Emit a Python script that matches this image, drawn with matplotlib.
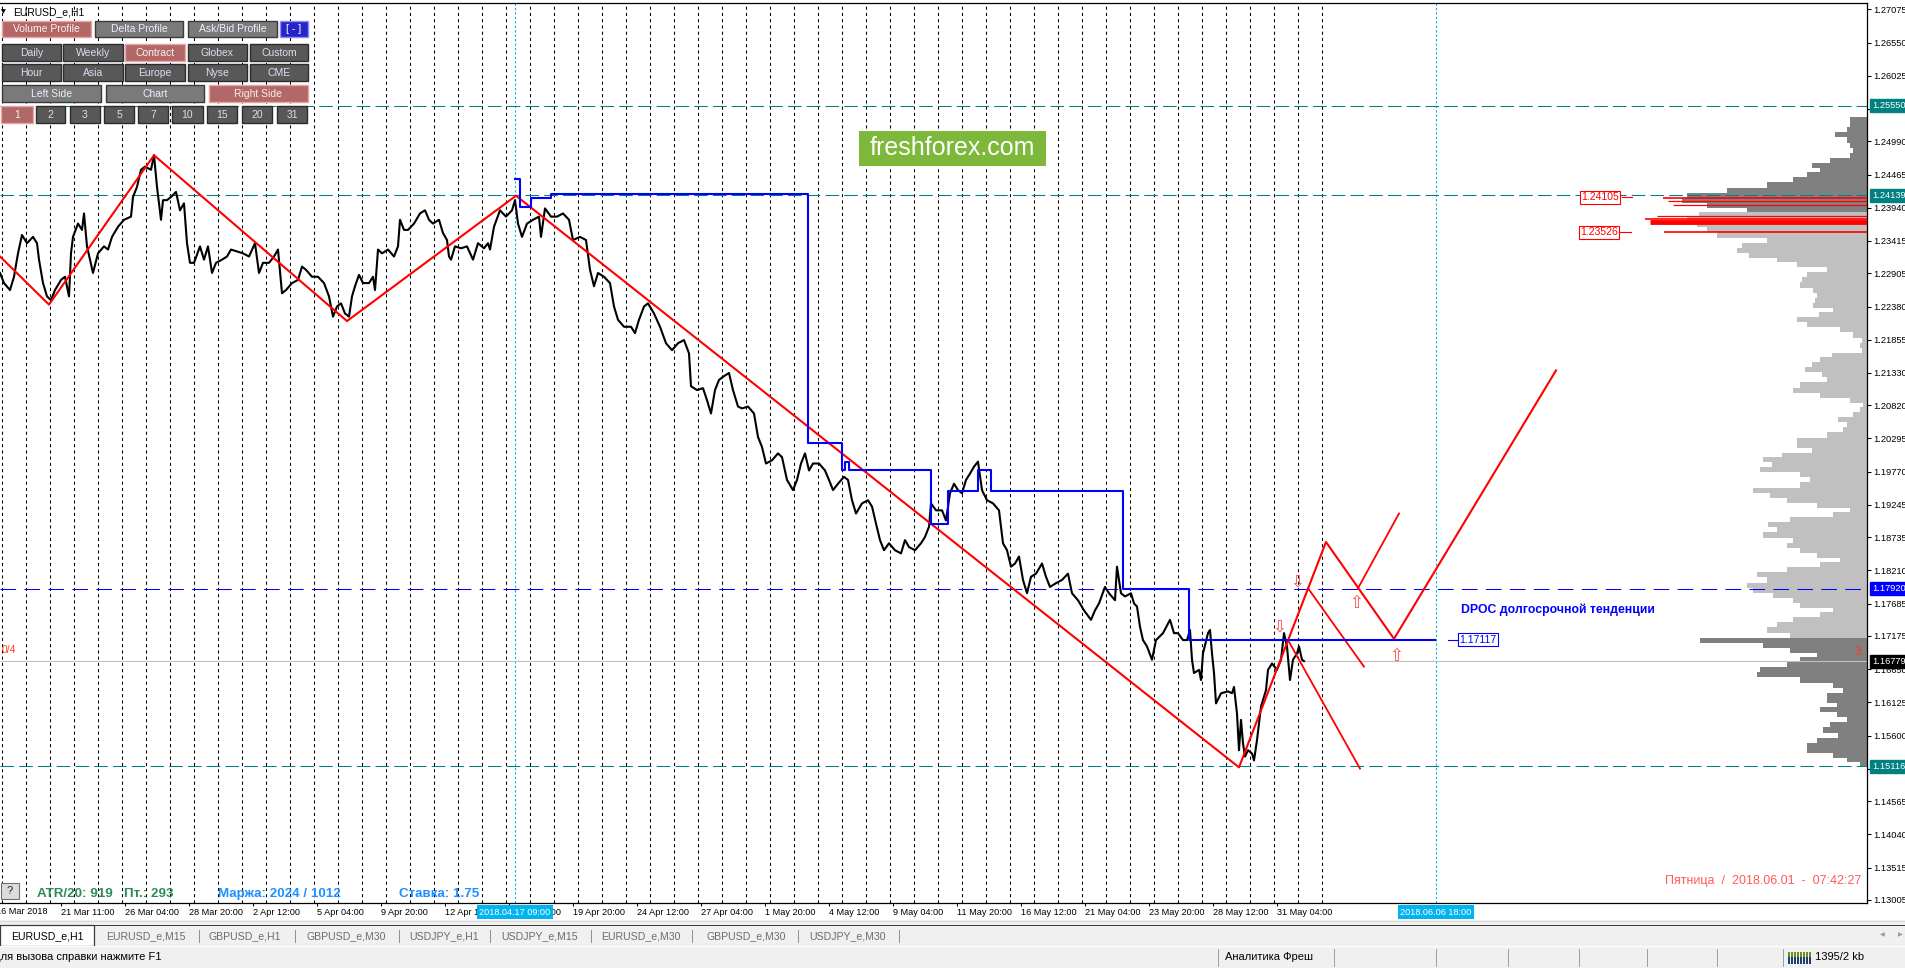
import matplotlib
matplotlib.use("Agg")
import matplotlib.pyplot as plt
from matplotlib.patches import Rectangle
import numpy as np

plt.rcParams['font.family'] = ['Liberation Sans', 'DejaVu Sans']

W, H = 1906, 968

# ---- data (x = H1 bar index from the left edge) ----
path_mar_apr = [(0, 1.2291), (4, 1.2275), (10, 1.2264), (14, 1.2285), (18, 1.2322), (22, 1.2351),
    (27, 1.2338), (33, 1.2348), (37, 1.2338), (39, 1.2312), (43, 1.2275), (47, 1.2254), (51, 1.2248),
    (55, 1.2264), (61, 1.2280), (65, 1.2285), (69, 1.2254), (71, 1.2322), (73, 1.2348), (78, 1.2369),
    (82, 1.2359), (84, 1.2385), (87, 1.2333), (90, 1.2312), (93, 1.2291), (98, 1.2322), (104, 1.2333),
    (108, 1.2328), (112, 1.2348), (118, 1.2364), (124, 1.2375), (131, 1.2380), (133, 1.2411),
    (137, 1.2427), (141, 1.2454), (145, 1.2459), (151, 1.2454), (154, 1.2477), (157, 1.2427),
    (161, 1.2375), (163, 1.2406), (167, 1.2406), (171, 1.2411), (176, 1.2419), (180, 1.2390),
    (184, 1.2401), (187, 1.2338), (190, 1.2307), (194, 1.2307), (200, 1.2333), (204, 1.2312),
    (208, 1.2333), (212, 1.2291), (216, 1.2307), (222, 1.2312), (227, 1.2317), (231, 1.2328),
    (237, 1.2325), (243, 1.2322), (249, 1.2317), (255, 1.2338), (259, 1.2291), (263, 1.2307),
    (269, 1.2307), (274, 1.2317), (278, 1.2328), (282, 1.2259), (286, 1.2264), (292, 1.2275),
    (298, 1.2280), (302, 1.2301), (306, 1.2296), (312, 1.2285), (318, 1.2285), (324, 1.2275),
    (329, 1.2254), (333, 1.2222), (337, 1.2238), (341, 1.2243), (345, 1.2227), (349, 1.2222),
    (352, 1.2254), (355, 1.2270), (359, 1.2288), (363, 1.2275), (369, 1.2275), (373, 1.2285),
    (375, 1.2264), (378, 1.2328), (382, 1.2322), (388, 1.2328), (394, 1.2317), (398, 1.2333),
    (400, 1.2375), (404, 1.2359), (408, 1.2359), (414, 1.2369), (420, 1.2385), (425, 1.2390),
    (429, 1.2375), (433, 1.2369), (439, 1.2375), (443, 1.2354), (447, 1.2343), (449, 1.2317),
    (451, 1.2312), (455, 1.2333), (461, 1.2330), (467, 1.2333), (473, 1.2312), (478, 1.2338),
    (484, 1.2330), (488, 1.2338), (490, 1.2328), (494, 1.2364), (500, 1.2390), (506, 1.2380),
    (512, 1.2390), (515, 1.2406), (518, 1.2369), (522, 1.2348), (527, 1.2369), (533, 1.2375),
    (539, 1.2380), (541, 1.2348), (545, 1.2393), (551, 1.2380), (557, 1.2380), (563, 1.2385),
    (569, 1.2375), (573, 1.2343), (580, 1.2348), (586, 1.2343), (590, 1.2296), (594, 1.2270),
    (598, 1.2291), (604, 1.2285), (610, 1.2275), (614, 1.2238), (618, 1.2217), (624, 1.2206),
    (631, 1.2206), (635, 1.2196), (639, 1.2217)]

path_apr_may = [(644, 1.2238), (648, 1.2243), (654, 1.2227), (660, 1.2206), (666, 1.2180),
    (672, 1.2169), (678, 1.2180), (684, 1.2185), (689, 1.2164), (691, 1.2112), (697, 1.2106),
    (703, 1.2109), (707, 1.2090), (711, 1.2069), (715, 1.2106), (719, 1.2122), (723, 1.2127),
    (729, 1.2133), (733, 1.2106), (738, 1.2080), (742, 1.2077), (748, 1.2080), (754, 1.2069),
    (758, 1.2032), (762, 1.2016), (766, 1.1990), (772, 1.1995), (778, 1.2006), (782, 1.2000),
    (787, 1.1964), (793, 1.1948), (797, 1.1964), (801, 1.1990), (805, 1.2006), (809, 1.1979),
    (813, 1.1990), (819, 1.1990), (825, 1.1979), (829, 1.1964), (833, 1.1948), (838, 1.1958),
    (844, 1.1969), (848, 1.1964), (852, 1.1932), (856, 1.1911), (862, 1.1927), (868, 1.1932),
    (872, 1.1922), (876, 1.1895), (880, 1.1869), (884, 1.1853), (889, 1.1864), (895, 1.1853),
    (901, 1.1848), (905, 1.1869), (909, 1.1858), (915, 1.1853), (921, 1.1864), (925, 1.1874),
    (929, 1.1890), (931, 1.1927), (936, 1.1916), (942, 1.1916), (946, 1.1900), (950, 1.1943),
    (954, 1.1958), (958, 1.1948), (962, 1.1943), (966, 1.1964), (970, 1.1974), (974, 1.1985),
    (978, 1.1993), (982, 1.1948), (987, 1.1932), (993, 1.1927), (999, 1.1916), (1003, 1.1864),
    (1007, 1.1853), (1011, 1.1827), (1015, 1.1832), (1019, 1.1843), (1023, 1.1806), (1027, 1.1785),
    (1031, 1.1811), (1036, 1.1816), (1042, 1.1832), (1046, 1.1811), (1050, 1.1795), (1056, 1.1801),
    (1062, 1.1806), (1068, 1.1816), (1072, 1.1785), (1078, 1.1774), (1084, 1.1758), (1091, 1.1743),
    (1095, 1.1758), (1099, 1.1769), (1105, 1.1795), (1109, 1.1785), (1115, 1.1774), (1117, 1.1827),
    (1121, 1.1785), (1125, 1.1780), (1131, 1.1785)]

path_may_jun = [(1134, 1.1769), (1137, 1.1764), (1140, 1.1732), (1143, 1.1711), (1147, 1.1701),
    (1152, 1.1680), (1156, 1.1711), (1163, 1.1722), (1170, 1.1743), (1174, 1.1722), (1178, 1.1722),
    (1183, 1.1711), (1187, 1.1711), (1190, 1.1727), (1192, 1.1680), (1194, 1.1659), (1199, 1.1664),
    (1201, 1.1648), (1203, 1.1690), (1208, 1.1722), (1210, 1.1727), (1212, 1.1690), (1214, 1.1659),
    (1216, 1.1611), (1221, 1.1627), (1228, 1.1630), (1232, 1.1627), (1234, 1.1637), (1237, 1.1595),
    (1239, 1.1537), (1241, 1.1585), (1243, 1.1548), (1245, 1.1527), (1248, 1.1537), (1252, 1.1532),
    (1254, 1.1521), (1257, 1.1553), (1261, 1.1606), (1266, 1.1632), (1268, 1.1664), (1272, 1.1674),
    (1277, 1.1664), (1281, 1.1680), (1284, 1.1722), (1287, 1.1701), (1290, 1.1648), (1293, 1.1680),
    (1297, 1.1690), (1299, 1.1701), (1302, 1.1680), (1304, 1.16779)]

zigzag_bars = [0, 49, 154, 347, 516, 1239, 1326, 1394, 1556]
zigzag_prices = [1.2317, 1.2241, 1.2477, 1.2215, 1.2413, 1.1510, 1.1866, 1.1713, 1.2137]
branch_lines = [([1358, 1399], [1.1793, 1.1911]),
                ([1308, 1364], [1.1793, 1.1669]),
                ([1288, 1360], [1.1711, 1.1508])]
arrow_down = [(1297, 1.1803), (1279, 1.1732)]
arrow_up = [(1356, 1.1770), (1396, 1.1686)]

dpoc_bars = [515, 520, 531, 551, 808, 842, 845, 849, 931, 948, 978, 991, 1123, 1189, 1435]
dpoc_levels = [1.2440, 1.2395, 1.2410, 1.2416, 1.2023, 1.1979, 1.1993, 1.1979, 1.1895,
               1.1946, 1.1979, 1.1946, 1.1792, 1.17117, 1.17117]

teal_levels = [1.25550, 1.24139, 1.15116]
dpoc_long = 1.17920
bid = 1.16779
cursor_bars = [515, 1436]
cursor_labels = ["2018.04.17 09:00", "2018.06.06 18:00"]

profile_prices = [
    1.2533, 1.2525, 1.2517, 1.2509, 1.2501, 1.2493, 1.2485, 1.2477, 1.2469, 1.2461,
    1.2454, 1.2446, 1.2438, 1.2430, 1.2422, 1.2414, 1.2406, 1.2398, 1.2390, 1.2383,
    1.2375, 1.2367, 1.2359, 1.2351, 1.2343, 1.2335, 1.2327, 1.2319, 1.2312, 1.2304,
    1.2296, 1.2288, 1.2280, 1.2272, 1.2264, 1.2256, 1.2248, 1.2240, 1.2233, 1.2225,
    1.2217, 1.2209, 1.2201, 1.2193, 1.2185, 1.2177, 1.2169, 1.2161, 1.2154, 1.2146,
    1.2138, 1.2130, 1.2122, 1.2114, 1.2106, 1.2098, 1.2090, 1.2082, 1.2075, 1.2067,
    1.2059, 1.2051, 1.2043, 1.2035, 1.2027, 1.2019, 1.2011, 1.2003, 1.1996, 1.1988,
    1.1980, 1.1972, 1.1964, 1.1956, 1.1948, 1.1940, 1.1932, 1.1924, 1.1917, 1.1909,
    1.1901, 1.1893, 1.1885, 1.1877, 1.1869, 1.1861, 1.1853, 1.1845, 1.1838, 1.1830,
    1.1822, 1.1814, 1.1806, 1.1798, 1.1790, 1.1782, 1.1774, 1.1766, 1.1759, 1.1751,
    1.1743, 1.1735, 1.1727, 1.1719, 1.1711, 1.1703, 1.1695, 1.1687, 1.1680, 1.1672,
    1.1664, 1.1656, 1.1648, 1.1640, 1.1632, 1.1624, 1.1616, 1.1608, 1.1601, 1.1593,
    1.1585, 1.1577, 1.1569, 1.1561, 1.1553, 1.1545, 1.1537, 1.1529, 1.1522, 1.1514]
profile_volume = [
    17, 17, 20, 32, 20, 17, 14, 17, 37, 55,
    47, 60, 74, 100, 140, 180, 185, 160, 120, 168,
    180, 170, 160, 150, 100, 125, 130, 118, 90, 70,
    40, 60, 65, 67, 54, 50, 52, 54, 34, 48,
    70, 60, 27, 14, 5, 7, 5, 35, 47, 55,
    62, 45, 40, 67, 74, 47, 17, 4, 7, 14,
    29, 20, 24, 40, 70, 70, 55, 85, 104, 95,
    107, 67, 57, 67, 114, 97, 80, 50, 17, 34,
    77, 99, 90, 104, 74, 80, 67, 50, 27, 47,
    80, 110, 100, 120, 114, 94, 74, 67, 34, 47,
    74, 90, 100, 77, 167, 104, 77, 50, 67, 80,
    107, 110, 67, 34, 24, 40, 40, 30, 47, 30,
    20, 37, 44, 29, 50, 60, 60, 34, 20, 7]
poc_levels = [1.24102, 1.24047, 1.23991, 1.23802, 1.23755, 1.23715, 1.2355]
poc_volume = [204, 199, 194, 210, 222, 217, 203]
poc_width = [1.2, 0.9, 0.9, 0.9, 1.2, 3.5, 1.2]

price_ticks = [1.27075, 1.26550, 1.26025, 1.25500, 1.24990, 1.24465, 1.23940, 1.23415,
               1.22905, 1.22380, 1.21855, 1.21330, 1.20820, 1.20295, 1.19770, 1.19245,
               1.18735, 1.18210, 1.17685, 1.17175, 1.16650, 1.16125, 1.15600, 1.15075,
               1.14565, 1.14040, 1.13515, 1.13005]
time_tick_bars = [61, 125, 189, 253, 317, 381, 445, 509, 573, 637, 701, 765, 829, 893,
                  957, 1021, 1085, 1149, 1213, 1277]
time_labels = ["21 Mar 11:00", "26 Mar 04:00", "28 Mar 20:00", "2 Apr 12:00", "5 Apr 04:00",
               "9 Apr 20:00", "12 Apr 12:00", "17 Apr 04:00", "19 Apr 20:00", "24 Apr 12:00",
               "27 Apr 04:00", "1 May 20:00", "4 May 12:00", "9 May 04:00", "11 May 20:00",
               "16 May 12:00", "21 May 04:00", "23 May 20:00", "28 May 12:00", "31 May 04:00"]

tabs = ["EURUSD_e,H1", "EURUSD_e,M15", "GBPUSD_e,H1", "GBPUSD_e,M30", "USDJPY_e,H1",
        "USDJPY_e,M15", "EURUSD_e,M30", "GBPUSD_e,M30", "USDJPY_e,M30"]

# ---- figure ----
fig = plt.figure(figsize=(W / 100, H / 100), dpi=100)
fig.patch.set_facecolor('white')
ax = fig.add_axes([0, (H - 903) / H, 1867 / W, (903 - 3.3) / H])
ax.set_xlim(0, 1867)
ax.set_ylim(1.12957, 1.27170)
xmax = ax.get_xlim()[1]

# day separators (every 24 H1 bars)
ax.vlines(np.arange(2, 1323, 24), 1.12957, 1.27170, colors='black',
          linestyles=(0, (3, 3)), lw=0.75, zorder=1)
ax.vlines(cursor_bars, 1.12957, 1.27170, colors='#00b4f0',
          linestyles=(0, (2, 2)), lw=0.8, zorder=1)

# volume profile on the right edge
vols = np.array(profile_volume)
pp = np.array(profile_prices)
colors = ['#808080' if (p >= 1.2388 or p <= 1.1716) else '#c0c0c0' for p in pp]
ax.barh(pp, vols, left=xmax - vols, height=0.00080, color=colors, lw=0, zorder=2)
ax.hlines(poc_levels, xmax - np.array(poc_volume), xmax, colors='#ff0000',
          lw=poc_width, zorder=3)

# horizontal levels
ax.hlines(teal_levels, 0, xmax, colors='#008080', linestyles=(0, (13, 5)), lw=0.75, zorder=3)
ax.hlines(dpoc_long, 0, xmax, colors='#0000ff', linestyles=(0, (15, 8)), lw=0.75, zorder=3)
ax.hlines(bid, 0, xmax, colors='#c0c0c0', lw=0.8, zorder=3)

# price
path = path_mar_apr + path_apr_may + path_may_jun
ax.plot([b for b, _ in path], [p for _, p in path], color='black', lw=1.5, zorder=4)

# zigzag / projections
ax.plot(zigzag_bars, zigzag_prices, color='#ff0000', lw=1.5, zorder=5)
for bx, by in branch_lines:
    ax.plot(bx, by, color='#ff0000', lw=1.3, zorder=5)
for bx, by in arrow_down:
    ax.text(bx, by, '\u21e9', color='#ff4a4a', fontsize=12, ha='center', va='center',
            family='DejaVu Sans', zorder=6)
for bx, by in arrow_up:
    ax.text(bx, by, '\u21e7', color='#ff4a4a', fontsize=12, ha='center', va='center',
            family='DejaVu Sans', zorder=6)

# DPOC step line
ax.step(dpoc_bars, dpoc_levels, where='post', color='#0000ff', lw=1.5, zorder=5)

# on-chart labels
for txt, xc, lv, col, x0, x1 in [("1.24105", 1600, 1.24105, '#ff0000', 1622, 1632),
                                  ("1.23526", 1599, 1.2355, '#ff0000', 1620, 1631),
                                  ("1.17117", 1478, 1.17117, '#0000ff', 1448, 1457)]:
    ax.text(xc, lv, txt, color=col, fontsize=7.5, ha='center', va='center', zorder=7,
            bbox=dict(boxstyle='square,pad=0.12', fc='white', ec=col, lw=0.8))
    ax.plot([x0, x1], [lv, lv], color=col, lw=0.8, zorder=7)
ax.text(1461, 1.1759, "DPOC долгосрочной тенденции", color='#0000ff', fontsize=8.8,
        fontweight='bold', va='center', zorder=7)
ax.text(2, 1.1695, "0/4", color='#ff3c1e', fontsize=7.5, va='center', zorder=7)
ax.text(1858, 1.1692, "3", color='#ff3c1e', fontsize=9, ha='center', va='center', zorder=7)
ax.text(1861, 1.1330, "Пятница  /  2018.06.01  -  07:42:27", color='#ff5a5a', fontsize=9,
        ha='right', va='center', zorder=7)

# axes frame and ticks
for side in ['top', 'right', 'bottom']:
    ax.spines[side].set_linewidth(0.9)
    ax.spines[side].set_color('black')
ax.spines['left'].set_visible(False)
ax.yaxis.tick_right()
ax.set_yticks(price_ticks)
ax.set_yticklabels([f"{t:.5f}" for t in price_ticks])
ax.tick_params(axis='y', length=3, width=0.75, pad=1.5, labelsize=6.7)
ax.set_xticks(time_tick_bars)
ax.set_xticklabels(time_labels)
for lab in ax.get_xticklabels():
    lab.set_ha('left')
ax.tick_params(axis='x', length=2.5, width=0.75, pad=1.2, labelsize=6.6)

# price boxes on the right scale
yax = ax.get_yaxis_transform()
for lv, col in [(1.25550, '#008080'), (1.24139, '#008080'), (1.17920, '#0000ff'),
                (1.16779, '#000000'), (1.15116, '#008080')]:
    ax.text(1.0027, lv, f"{lv:.5f}", transform=yax, color='white', fontsize=6.7,
            ha='left', va='center', clip_on=False, zorder=8,
            bbox=dict(boxstyle='square,pad=0.22', fc=col, ec=col))

# highlighted times on the time scale
xax = ax.get_xaxis_transform()
for bx, txt in zip(cursor_bars, cursor_labels):
    ax.text(bx, -0.0101, txt, transform=xax, color='white', fontsize=6.6, ha='center',
            va='center', clip_on=False, zorder=8,
            bbox=dict(boxstyle='square,pad=0.25', fc='#00b4f0', ec='none'))


# ---- terminal interface around the chart (pixel helpers) ----
def box(x, y, w, h, fc, ec='none', lw=0.8, z=3):
    fig.patches.append(Rectangle((x / W, 1 - (y + h) / H), w / W, h / H,
                                 transform=fig.transFigure, fc=fc, ec=ec, lw=lw, zorder=z))


def label(x, y, s, **kw):
    kw.setdefault('va', 'center')
    kw.setdefault('zorder', 4)
    fig.text(x / W, 1 - y / H, s, **kw)


label(-4, 912, "16 Mar 2018", fontsize=6.6)
label(1, 12, "\u25bc", fontsize=4.5, family='DejaVu Sans')
label(13, 12, "EURUSD_e,H1", fontsize=7.5)

PINK = ('#b36868', '#e8a4a4', '#f8f0f0')
GRAY1 = ('#7a7a7a', '#3a3a3a', '#eeeeff')
GRAY2 = ('#585858', '#2c2c2c', '#dcdcf0')
BLUE = ('#2626c8', '#8c8cff', '#ffffff')
buttons = [("Volume Profile", 2, 21, 89, 16, PINK), ("Delta Profile", 95, 21, 88, 16, GRAY1),
           ("Ask/Bid Profile", 188, 21, 89, 16, GRAY1), ("[ - ]", 280, 21, 28, 16, BLUE)]
cols = [(2, 59), (63, 60), (125, 60), (188, 59), (250, 58)]
for names, yy in [(["Daily", "Weekly", "Contract", "Globex", "Custom"], 44),
                  (["Hour", "Asia", "Europe", "Nyse", "CME"], 64)]:
    for (cx, cw), nm in zip(cols, names):
        buttons.append((nm, cx, yy, cw, 17, PINK if nm == "Contract" else GRAY2))
buttons += [("Left Side", 2, 85, 99, 17, GRAY1), ("Chart", 106, 85, 98, 17, GRAY1),
            ("Right Side", 209, 85, 99, 17, PINK)]
for nm, cx, cw in [("1", 1, 32), ("2", 36, 29), ("3", 70, 30), ("5", 104, 30), ("7", 138, 30),
                   ("10", 172, 31), ("15", 207, 30), ("20", 242, 30), ("31", 277, 30)]:
    buttons.append((nm, cx, 106, cw, 17, PINK if nm == "1" else GRAY2))
for nm, bx, by, bw, bh, (fc, ec, tc) in buttons:
    box(bx, by, bw, bh, fc, ec=ec, lw=1.0)
    label(bx + bw / 2, by + bh / 2 + 0.5, nm, color=tc, fontsize=7.5, ha='center')

# freshforex badge
box(859, 131, 187, 35, '#7db83a')
label(952, 148, "freshforex.com", color='white', fontsize=18, ha='center')

# help button and account info
box(1, 883, 18, 16, '#dcdcdc', ec='#707070')
label(10, 891, "?", fontsize=8, ha='center', color='#202020')
label(37, 894, "ATR/20: 919", color='#2e8b57', fontsize=9.6, fontweight='bold')
label(124, 894, "Пт.: 293", color='#2e8b57', fontsize=9.6, fontweight='bold')
label(218, 894, "Маржа: 2024 / 1012", color='#1e90ff', fontsize=9.6, fontweight='bold')
label(399, 894, "Ставка: 1.75", color='#1e90ff', fontsize=9.6, fontweight='bold')

# tab bar
box(0, 920, W, 27, '#f0f0f0')
box(0, 921, W, 1, '#d8d8d8')
box(0, 925, W, 1.2, '#3c3c3c')
box(0, 925, 94, 21, 'white', ec='#3c3c3c', lw=0.9)
tab_centers = [47, 146, 245, 346, 444, 540, 641, 746, 848]
for cx, nm in zip(tab_centers, tabs):
    label(cx, 936, nm, fontsize=7.6, ha='center', color='black' if cx == 47 else '#6c6c6c')
for sx in [199, 295, 399, 490, 591, 692, 798, 899]:
    box(sx, 930, 0.9, 13, '#909090')
label(1882, 935, "\u25c0", fontsize=4.5, family='DejaVu Sans', color='#9a9a9a', ha='center')
label(1900, 935, "\u25b6", fontsize=4.5, family='DejaVu Sans', color='#9a9a9a', ha='center')

# status bar
box(0, 946, W, 1.2, 'white')
box(0, 947, W, 21, '#f0f0f0')
label(-7, 957, "Для вызова справки нажмите F1", fontsize=8)
label(1225, 957, "Аналитика Фреш", fontsize=8)
for sx in [1218, 1334, 1436, 1508, 1579, 1647, 1717, 1783]:
    box(sx, 949, 0.9, 18, '#a0a0a0')
for i in range(8):
    box(1788 + 3 * i, 952, 2, 5, '#6b8e23')
    box(1788 + 3 * i, 957, 2, 7, '#1f3f6f')
label(1815, 957, "1395/2 kb", fontsize=8)

fig.savefig("out.png", dpi=100)
